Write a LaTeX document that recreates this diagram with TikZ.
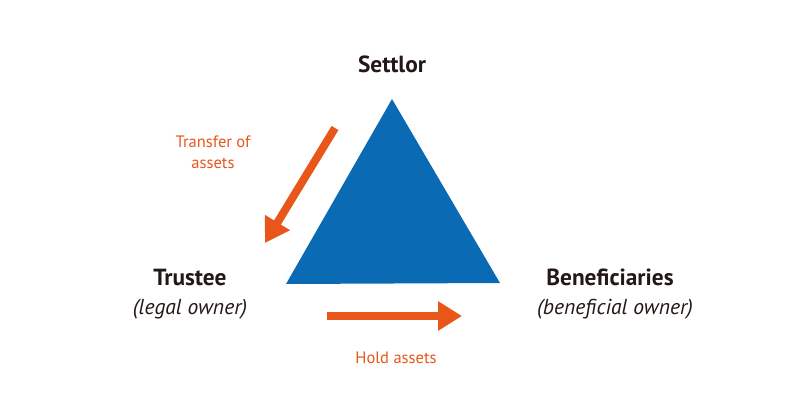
\documentclass[tikz,border=0pt]{standalone}
\usepackage{fontspec}
\setmainfont{PT Sans}
\usetikzlibrary{arrows.meta}
\definecolor{trustblue}{HTML}{0A6BB4}
\definecolor{trustorange}{HTML}{E8561A}
\definecolor{trustblack}{HTML}{231815}
\tikzset{
    party/.style={anchor=base, text=trustblack, font=\fontsize{17.5}{21}\selectfont\bfseries},
    role/.style={anchor=base, text=trustblack, font=\fontsize{16.2}{19}\selectfont\itshape},
    flowlabel/.style={anchor=base, text=trustorange, align=center, font=\fontsize{12.4}{15.75}\selectfont},
    flow/.style={draw=trustorange, line width=6pt, -{Triangle[length=18pt, width=21pt]}}
}
\begin{document}
\begin{tikzpicture}[x=0.75pt, y=-0.75pt]
            \useasboundingbox (0,0) rectangle (800,418);
            % triangle
            \coordinate (apex) at (392,99);
            \coordinate (left) at (286,284);
            \coordinate (right) at (500,283);
            \fill [trustblue] (apex) -- (left) -- (right) -- cycle;
            % parties
            \node [party] (settlor) at (392,72) {Settlor};
            \node [party] (trustee) at (190,285) {Trustee};
            \node [role] (trusteerole) at (190,314) {(legal owner)};
            \node [party] (beneficiaries) at (610,285) {Beneficiaries};
            \node [role] (beneficiariesrole) at (615,314) {(beneficial owner)};
            % flows
            \coordinate (transferfrom) at (335,128);
            \coordinate (transferto) at (265,243);
            \draw [flow] (transferfrom) -- (transferto);
            \node [flowlabel] (transferlabel) at (213,168) {Transfer of\\assets};
            \coordinate (holdfrom) at (327,316);
            \coordinate (holdto) at (462,316);
            \draw [flow] (holdfrom) -- (holdto);
            \node [flowlabel] (holdlabel) at (396,363) {Hold assets};
\end{tikzpicture}
\end{document}
